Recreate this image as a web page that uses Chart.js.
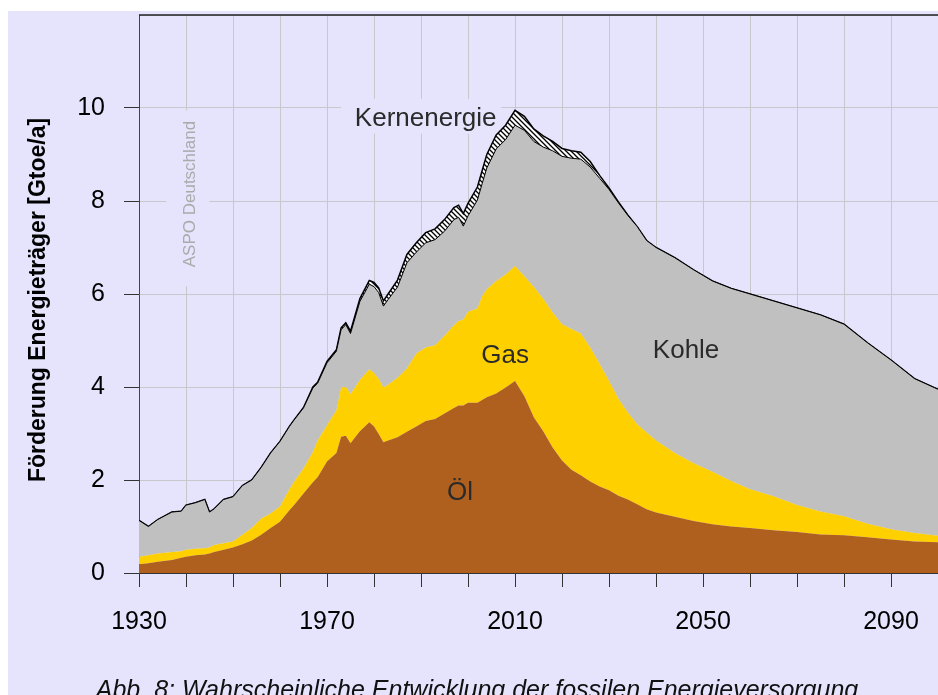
<!DOCTYPE html>
<html>
<head>
<meta charset="utf-8">
<script src="https://cdn.jsdelivr.net/npm/chart.js@4.4.0/dist/chart.umd.min.js"></script>
<style>
  html, body { margin: 0; padding: 0; background: #fff; }
  #wrap { width: 938px; height: 695px; }
</style>
</head>
<body>
<div id="wrap"><canvas id="energyChart" width="938" height="695"></canvas></div>
<script>
// Förderung fossiler Energieträger, Gtoe/a
const years = [
  1930, 1932, 1934, 1937, 1939, 1940, 1942, 1944, 1945, 1946,
  1948, 1950, 1952, 1954, 1956, 1958, 1960, 1962, 1963, 1965,
  1967, 1968, 1970, 1972, 1973, 1974, 1975, 1977, 1979, 1980,
  1981, 1982, 1983, 1985, 1987, 1989, 1991, 1993, 1995, 1997,
  1998, 1999, 2000, 2002, 2003, 2004, 2006, 2008, 2010, 2012,
  2014, 2016, 2018, 2020, 2022, 2024, 2026, 2028, 2030, 2032,
  2034, 2036, 2038, 2040, 2044, 2048, 2052, 2056, 2060, 2065,
  2070, 2075, 2080, 2085, 2090, 2095, 2100
];
const oel = [
  0.19, 0.21, 0.24, 0.28, 0.33, 0.35, 0.38, 0.40, 0.42, 0.45,
  0.50, 0.55, 0.62, 0.70, 0.82, 0.97, 1.10, 1.35, 1.46, 1.71,
  1.95, 2.06, 2.40, 2.58, 2.93, 2.95, 2.79, 3.05, 3.24, 3.15,
  2.99, 2.81, 2.85, 2.92, 3.04, 3.15, 3.27, 3.31, 3.43, 3.55,
  3.60, 3.60, 3.66, 3.66, 3.72, 3.78, 3.86, 3.99, 4.13, 3.80,
  3.35, 3.05, 2.70, 2.42, 2.22, 2.10, 1.97, 1.86, 1.78, 1.66,
  1.58, 1.48, 1.37, 1.30, 1.21, 1.12, 1.05, 1.00, 0.97, 0.92,
  0.88, 0.83, 0.81, 0.77, 0.72, 0.68, 0.66
];
const gas = [
  0.16, 0.17, 0.18, 0.17, 0.14, 0.15, 0.14, 0.13, 0.13, 0.15,
  0.14, 0.13, 0.20, 0.27, 0.35, 0.31, 0.33, 0.45, 0.50, 0.54,
  0.65, 0.79, 0.78, 0.92, 1.06, 1.05, 1.06, 1.10, 1.14, 1.15,
  1.18, 1.18, 1.20, 1.28, 1.36, 1.57, 1.58, 1.59, 1.67, 1.78,
  1.82, 1.85, 1.96, 2.03, 2.23, 2.32, 2.42, 2.43, 2.47, 2.58,
  2.80, 2.85, 2.90, 2.93, 3.03, 3.05, 2.88, 2.64, 2.35, 2.09,
  1.87, 1.72, 1.65, 1.55, 1.37, 1.24, 1.13, 0.98, 0.83, 0.73,
  0.58, 0.49, 0.41, 0.29, 0.22, 0.18, 0.14
];
const kohle = [
  0.78, 0.62, 0.73, 0.86, 0.86, 0.96, 0.99, 1.05, 0.76, 0.78,
  0.94, 0.96, 1.06, 1.03, 1.10, 1.30, 1.40, 1.35, 1.33, 1.30,
  1.38, 1.23, 1.34, 1.27, 1.24, 1.34, 1.30, 1.69, 1.83, 1.86,
  1.86, 1.75, 1.83, 1.95, 2.27, 2.18, 2.25, 2.27, 2.25, 2.27,
  2.23, 2.01, 2.06, 2.33, 2.42, 2.61, 2.84, 2.90, 3.03, 3.14,
  3.13, 3.26, 3.48, 3.61, 3.67, 3.75, 3.88, 3.99, 4.12, 4.21,
  4.24, 4.25, 4.13, 4.15, 4.20, 4.16, 4.10, 4.14, 4.20, 4.20,
  4.24, 4.23, 4.13, 3.89, 3.64, 3.32, 3.15
];
const kern = [
  0, 0, 0, 0, 0, 0, 0, 0, 0, 0,
  0, 0, 0, 0, 0, 0, 0, 0, 0, 0.01,
  0.02, 0.02, 0.03, 0.03, 0.04, 0.04, 0.05, 0.06, 0.08, 0.09,
  0.10, 0.11, 0.12, 0.15, 0.18, 0.20, 0.22, 0.23, 0.25, 0.26,
  0.26, 0.27, 0.27, 0.28, 0.28, 0.29, 0.30, 0.31, 0.32, 0.30,
  0.27, 0.24, 0.20, 0.17, 0.16, 0.15, 0.12, 0.06, 0.03, 0.02,
  0.01, 0, 0, 0, 0, 0, 0, 0, 0, 0,
  0, 0, 0, 0, 0, 0, 0
];
const shownYears = [1930, 1970, 2010, 2050, 2090];
const yTickLabels = [0, 2, 4, 6, 8, 10];

const FONT = "'Liberation Sans', Arial, sans-serif";
const LAVENDER = '#e6e4fc';

const canvas = document.getElementById('energyChart');
const ctx = canvas.getContext('2d');

// schraffur fuer kernenergie
function hatch() {
  const c = document.createElement('canvas');
  c.width = 5; c.height = 5;
  const g = c.getContext('2d');
  g.fillStyle = '#fff';
  g.fillRect(0, 0, 5, 5);
  g.strokeStyle = '#000';
  g.lineWidth = 1.3;
  g.beginPath();
  g.moveTo(0, 0); g.lineTo(5, 5);
  g.moveTo(-1, 4); g.lineTo(1, 6);
  g.moveTo(4, -1); g.lineTo(6, 1);
  g.stroke();
  return ctx.createPattern(c, 'repeat');
}

const toPoints = arr => arr.map((v, i) => ({ x: years[i], y: v }));

const decor = {
  id: 'decor',
  beforeDraw(chart) {
    const c = chart.ctx;
    c.save();
    c.fillStyle = '#fff';
    c.fillRect(0, 0, chart.width, chart.height);
    c.fillStyle = LAVENDER;
    c.fillRect(8, 11, chart.width - 8, chart.height - 11);
    c.restore();
  },
  beforeDatasetsDraw(chart) {
    const c = chart.ctx;
    const { x, y } = chart.scales;
    c.save();
    c.fillStyle = LAVENDER;
    // freiraum um wasserzeichen und beschriftung
    c.fillRect(x.getPixelForValue(1935.8), y.getPixelForValue(9.95), 43, 176);
    c.fillRect(x.getPixelForValue(1973), y.getPixelForValue(10.2), 160, 35);
    c.translate(x.getPixelForValue(1941), y.getPixelForValue(8.15));
    c.rotate(-Math.PI / 2);
    c.fillStyle = '#aaaaaa';
    c.font = '17px ' + FONT;
    c.textAlign = 'center';
    c.textBaseline = 'middle';
    c.fillText('ASPO Deutschland', 0, 0);
    c.restore();
  },
  afterDatasetsDraw(chart) {
    const c = chart.ctx;
    const { x, y } = chart.scales;
    c.save();
    c.fillStyle = '#2a2a2a';
    c.font = '26px ' + FONT;
    c.textAlign = 'center';
    c.textBaseline = 'alphabetic';
    c.fillText('Kernenergie', x.getPixelForValue(1991), y.getPixelForValue(9.61));
    c.fillText('Gas', x.getPixelForValue(2007.9), y.getPixelForValue(4.52));
    c.fillText('Kohle', x.getPixelForValue(2046.4), y.getPixelForValue(4.62));
    c.fillText('Öl', x.getPixelForValue(1998.3), y.getPixelForValue(1.58));
    c.restore();
  },
  afterDraw(chart) {
    const c = chart.ctx;
    const a = chart.chartArea;
    c.save();
    c.strokeStyle = '#222';
    c.lineWidth = 1.5;
    c.beginPath();
    c.moveTo(a.left, a.top);
    c.lineTo(a.right, a.top);
    c.stroke();

    c.fillStyle = '#000';
    c.font = 'bold 23px ' + FONT;
    c.textAlign = 'center';
    c.textBaseline = 'middle';
    c.translate(39, 300);
    c.rotate(-Math.PI / 2);
    c.fillText('Förderung Energieträger [Gtoe/a]', 0, 0);
    c.restore();

    c.save();
    c.fillStyle = '#111';
    c.font = 'italic 25px ' + FONT;
    c.textAlign = 'center';
    c.textBaseline = 'alphabetic';
    c.fillText('Abb. 8: Wahrscheinliche Entwicklung der fossilen Energieversorgung', 477, 698);
    c.restore();
  }
};

new Chart(ctx, {
  type: 'line',
  data: {
    datasets: [
      { label: 'Öl', data: toPoints(oel), backgroundColor: '#b0601e', borderWidth: 0, fill: 'origin' },
      { label: 'Gas', data: toPoints(gas), backgroundColor: '#ffd000', borderWidth: 0, fill: '-1' },
      { label: 'Kohle', data: toPoints(kohle), backgroundColor: '#c0c0c0', borderColor: '#000', borderWidth: 1, fill: '-1' },
      { label: 'Kernenergie', data: toPoints(kern), backgroundColor: hatch(), borderColor: '#000', borderWidth: 1.5, fill: '-1' }
    ]
  },
  options: {
    responsive: false,
    animation: false,
    devicePixelRatio: 1,
    layout: { padding: { top: 15, right: 0, left: 0, bottom: 0 } },
    elements: { point: { radius: 0 }, line: { tension: 0 } },
    plugins: {
      legend: { display: false },
      tooltip: { enabled: false }
    },
    scales: {
      x: {
        type: 'linear',
        min: 1930,
        max: 2100,
        afterFit: s => {
          s.height = 122;
          s.paddingLeft = 0;
          s.paddingRight = 0;
        },
        border: { color: '#333', width: 1 },
        grid: { color: '#c8c8cc', lineWidth: 1, tickLength: 14, tickColor: '#333' },
        ticks: {
          stepSize: 10,
          autoSkip: false,
          maxRotation: 0,
          padding: 20,
          color: '#000',
          font: { family: FONT, size: 25 },
          callback: v => shownYears.includes(v) ? String(v) : ''
        }
      },
      y: {
        stacked: true,
        min: 0,
        max: 12,
        afterFit: s => {
          s.width = 139;
          s.paddingTop = 0;
          s.paddingBottom = 0;
        },
        border: { color: '#444', width: 1 },
        grid: {
          color: '#c8c8cc',
          lineWidth: 1,
          tickLength: 15,
          tickColor: c => yTickLabels.includes(c.tick.value) ? '#333' : 'rgba(0,0,0,0)'
        },
        ticks: {
          stepSize: 2,
          padding: 19,
          color: '#000',
          font: { family: FONT, size: 25 },
          callback: v => yTickLabels.includes(v) ? String(v) : ''
        }
      }
    }
  },
  plugins: [decor]
});
</script>
</body>
</html>
